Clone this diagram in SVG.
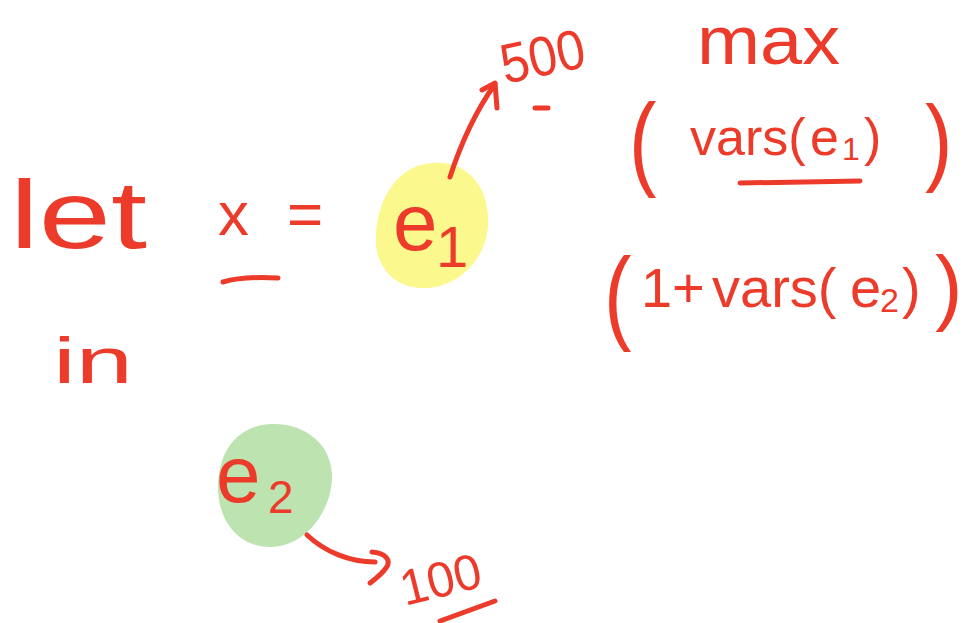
<svg xmlns="http://www.w3.org/2000/svg" width="974" height="623" viewBox="0 0 974 623">
  <style>
    .ink { fill: #ec3b2a; font-family: "Liberation Sans", "DejaVu Sans", sans-serif; }
    .stroke { fill: none; stroke: #ec3b2a; stroke-width: 5; stroke-linecap: round; stroke-linejoin: round; }
  </style>
  <rect width="974" height="623" fill="#ffffff"/>

  <g id="node-let">
    <text class="ink" x="10" y="248" font-size="96" textLength="137" lengthAdjust="spacingAndGlyphs">let</text>
  </g>

  <g id="node-x">
    <text class="ink" x="218" y="235" font-size="62">x</text>
    <text class="ink" x="287" y="235" font-size="62">=</text>
    <path class="stroke" d="M 223 282 C 240 277 260 277 278 278"/>
  </g>

  <g id="node-in">
    <text class="ink" x="53" y="383" font-size="64" textLength="80" lengthAdjust="spacingAndGlyphs">in</text>
  </g>

  <g id="node-e1">
    <path d="M 432 163 C 470 160 490 190 488 225 C 486 262 455 290 420 288 C 390 286 374 262 376 235 C 378 195 400 165 432 163 Z" fill="#fbf88d"/>
    <text class="ink" x="393" y="250" font-size="80">e</text>
    <text class="ink" x="436" y="267" font-size="58">1</text>
  </g>

  <g id="node-500">
    <text class="ink" x="505" y="84" font-size="56" textLength="85" lengthAdjust="spacingAndGlyphs" transform="rotate(-12 505 84)">500</text>
    <path class="stroke" d="M 535 108 L 548 108"/>
  </g>

  <g id="node-max">
    <text class="ink" x="697" y="64" font-size="68" textLength="143" lengthAdjust="spacingAndGlyphs">max</text>
  </g>

  <g id="node-vars1">
    <text class="ink" font-size="55" transform="translate(629 176) scale(1.5 1.9)">(</text>
    <text class="ink" y="155" font-size="52"><tspan x="690">vars(</tspan><tspan x="810">e</tspan><tspan x="842" y="160" font-size="32">1</tspan><tspan x="864" y="155">)</tspan></text>
    <path class="stroke" d="M 740 183 L 860 181"/>
    <text class="ink" font-size="55" transform="translate(925 173) scale(1.5 1.75)">)</text>
  </g>

  <g id="node-vars2">
    <text class="ink" font-size="55" transform="translate(604 330) scale(1.5 1.9)">(</text>
    <text class="ink" y="307" font-size="56"><tspan x="641">1</tspan><tspan x="672">+</tspan><tspan x="712">vars(</tspan><tspan x="850">e</tspan><tspan x="880" y="312" font-size="34">2</tspan><tspan x="902" y="307">)</tspan></text>
    <text class="ink" font-size="55" transform="translate(935 315) scale(1.5 1.5)">)</text>
  </g>

  <g id="node-e2">
    <path d="M 270 424 C 305 422 333 445 332 478 C 331 512 305 547 270 547 C 238 547 218 520 218 488 C 218 450 238 426 270 424 Z" fill="#bde3b1"/>
    <text class="ink" x="216" y="502" font-size="80">e</text>
    <text class="ink" x="268" y="513" font-size="46">2</text>
  </g>

  <g id="node-100">
    <text class="ink" x="405" y="606" font-size="50" textLength="82" lengthAdjust="spacingAndGlyphs" transform="rotate(-14 405 606)">100</text>
    <path class="stroke" d="M 440 621 L 495 601"/>
  </g>

  <g id="connectors">
    <path class="stroke" d="M 450 177 C 462 140 478 108 495 84"/>
    <path class="stroke" d="M 482 90 L 495 83 L 497 108"/>
    <path class="stroke" d="M 307 535 C 325 552 350 562 375 562"/>
    <path class="stroke" d="M 372 552 C 385 553 392 560 386 568 C 381 575 375 579 370 583"/>
  </g>
</svg>
